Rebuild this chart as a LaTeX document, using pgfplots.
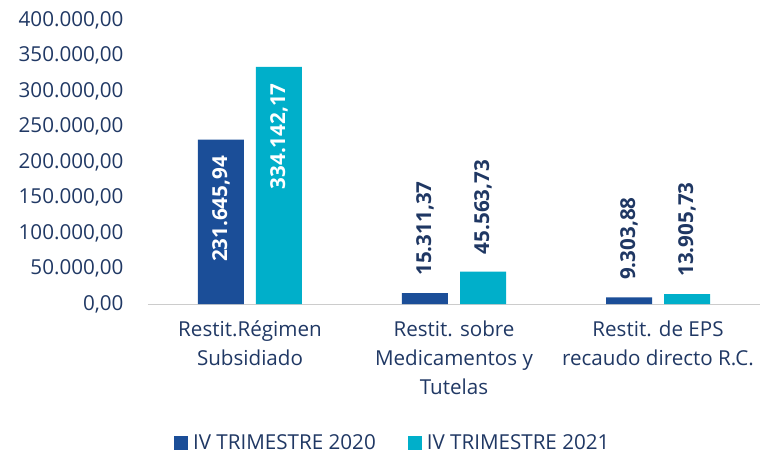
\documentclass[border=0pt]{standalone}
\usepackage{pgfplots}
\pgfplotsset{compat=1.18}
\usepackage{fontspec}
\setmainfont{Open Sans}
\definecolor{dblue}{HTML}{1B4E98}
\definecolor{cyanb}{HTML}{00AFCA}
\definecolor{navy}{HTML}{1F3763}
\definecolor{txt}{HTML}{203864}
\newcommand\cf{\fontsize{20.6}{29}\selectfont}
\begin{document}
\begin{tikzpicture}
\useasboundingbox (-148pt,-152pt) rectangle (613pt,304pt);
\begin{axis}[
  at={(0,0)}, anchor=south west,
  scale only axis, width=612pt, height=284pt,
  xmin=-0.5, xmax=2.5, ymin=0, ymax=400000,
  ybar, bar width=46pt,
  xtick={0,1,2},
  xticklabels={{Restit.Régimen\\Subsidiado},{Restit. sobre\\Medicamentos y\\Tutelas},{Restit. de EPS\\recaudo directo R.C.}},
  xticklabel style={align=center, font=\cf, text=txt, yshift=-13pt},
  ytick={0,50000,...,400000},
  yticklabel style={font=\cf, text=txt, xshift=-21pt},
  scaled y ticks=false,
  /pgf/number format/.cd, assume math mode=true, use comma, 1000 sep={.}, fixed, fixed zerofill, precision=2,
  /pgfplots/.cd,
  major tick length=0pt,
  axis x line*=bottom,
  axis y line*=left,
  x axis line style={draw=gray!40, line width=1pt, -},
  y axis line style={draw=none},
  tick style={draw=none},
  legend style={at={(0.4,-0.49)}, anchor=center, draw=none, legend columns=2,
    font=\cf, text=txt,
    /tikz/every odd column/.append style={column sep=3pt},
    /tikz/every even column/.append style={column sep=30pt}},
  legend image code/.code={\fill[#1] (0pt,-6.5pt) rectangle (14pt,7pt);},
]
\addplot[fill=dblue, draw=none, bar shift=-29pt] coordinates {(0,231645.94) (1,15311.37) (2,9303.88)};
\addlegendentry{IV TRIMESTRE 2020}
\addplot[fill=cyanb, draw=none, bar shift=29pt] coordinates {(0,334142.17) (1,45563.73) (2,13905.73)};
\addlegendentry{IV TRIMESTRE 2021}
% labels inside (group 1)
\addplot[draw=none, fill=none, bar shift=-29pt, forget plot,
  point meta=explicit symbolic,
  nodes near coords, nodes near coords style={rotate=90, anchor=east, xshift=-13pt, text=white, font=\bfseries\cf}]
  coordinates {(0,231645.94) [231.645{,}94]};
\addplot[draw=none, fill=none, bar shift=29pt, forget plot,
  point meta=explicit symbolic,
  nodes near coords, nodes near coords style={rotate=90, anchor=east, xshift=-13pt, text=white, font=\bfseries\cf}]
  coordinates {(0,334142.17) [334.142{,}17]};
% labels outside
\addplot[draw=none, fill=none, bar shift=-29pt, forget plot,
  point meta=explicit symbolic,
  nodes near coords, nodes near coords style={rotate=90, anchor=west, xshift=14pt, text=navy, font=\bfseries\cf}]
  coordinates {(1,15311.37) [15.311{,}37] (2,9303.88) [9.303{,}88]};
\addplot[draw=none, fill=none, bar shift=29pt, forget plot,
  point meta=explicit symbolic,
  nodes near coords, nodes near coords style={rotate=90, anchor=west, xshift=14pt, text=navy, font=\bfseries\cf}]
  coordinates {(1,45563.73) [45.563{,}73] (2,13905.73) [13.905{,}73]};
\end{axis}
\end{tikzpicture}
\end{document}
